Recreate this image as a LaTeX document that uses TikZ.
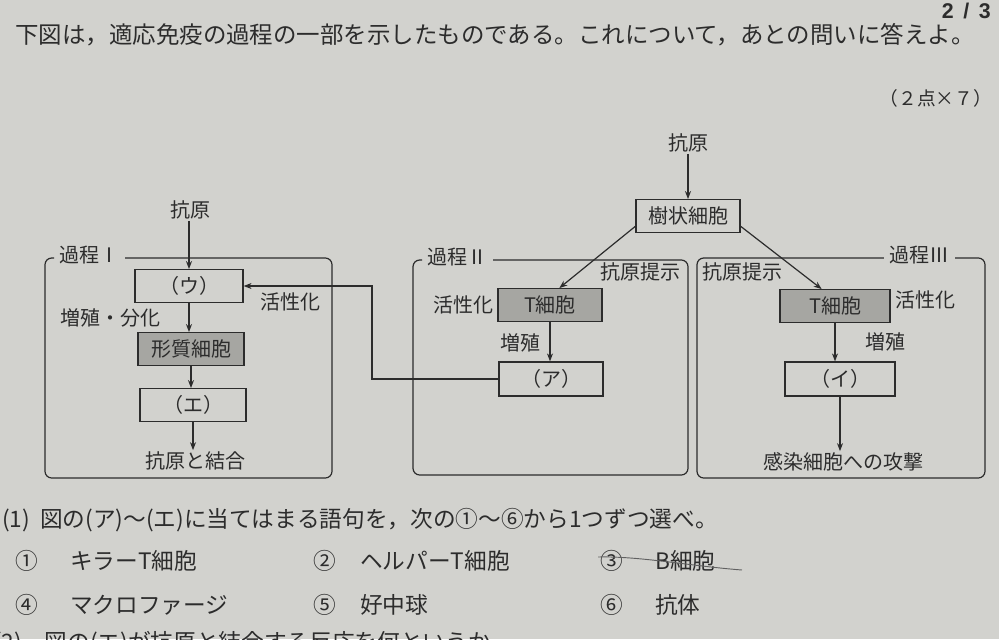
\documentclass[tikz,border=0pt]{standalone}
\usepackage{fontspec}
\setmainfont{Noto Sans CJK JP}
\newfontfamily\pagefont{Liberation Sans}
\usetikzlibrary{arrows.meta,calc}
\definecolor{paper}{HTML}{D2D2CE}
\definecolor{ink}{HTML}{2C2C2C}
\definecolor{cellfill}{HTML}{A6A6A2}
\begin{document}
\begin{tikzpicture}[x=0.75pt,y=-0.75pt,
  box/.style={draw=ink, line width=0.9pt, minimum width=79pt, minimum height=24.5pt, inner sep=0pt, text=ink, font=\fontsize{15}{18}\selectfont},
  gbox/.style={box, fill=cellfill},
  lbl/.style={font=\fontsize{15}{18}\selectfont, text=ink, inner sep=1pt},
  plbl/.style={font=\fontsize{15}{18}\selectfont, text=ink, inner xsep=4pt, inner ysep=1pt},
  txt/.style={font=\fontsize{17}{20}\selectfont, text=ink, inner sep=0pt},
  arr/.style={draw=ink, line width=0.9pt, -{Stealth[length=6pt,width=4.5pt]}},
  frame/.style={draw=ink, line width=0.9pt, rounded corners=5pt}]
\useasboundingbox (0,0) rectangle (999,639);
\clip (0,0) rectangle (999,639);
\fill[paper] (0,0) rectangle (999,639);

% header
\node[font=\pagefont\bfseries\fontsize{16}{18}\selectfont, text=ink, anchor=east, inner sep=0pt] (page) at (991,11) {2\hspace{0.45em}/\hspace{0.45em}3};
\node[font=\fontsize{17.6}{21}\selectfont, text=ink, anchor=west, inner sep=0pt] (head) at (15,35) {下図は，適応免疫の過程の一部を示したものである。これについて，あとの問いに答えよ。};
\node[font=\fontsize{14}{17}\selectfont, text=ink, anchor=east, inner sep=0pt] (pts) at (992,98) {（２点×７）};

% frame coordinates
\coordinate (f1tl) at (45,258);  \coordinate (f1br) at (332,478);
\coordinate (f2tl) at (413,260); \coordinate (f2br) at (688,475);
\coordinate (f3tl) at (697,258); \coordinate (f3br) at (985,478);

% process labels
\node[plbl, anchor=west] (p1) at (54,255) {過程Ⅰ};
\node[plbl, anchor=west] (p2) at (422,257) {過程Ⅱ};
\node[plbl, anchor=east] (p3) at (955,255) {過程Ⅲ};

% frames
\draw[frame] (p1.east |- f1tl) -- (f1br |- f1tl) -- (f1br) -- (f1tl |- f1br) -- (f1tl) -- (p1.west |- f1tl);
\draw[frame] (p2.east |- f2tl) -- (f2br |- f2tl) -- (f2br) -- (f2tl |- f2br) -- (f2tl) -- (p2.west |- f2tl);
\draw[frame] (p3.west |- f3tl) -- (f3tl) -- (f3tl |- f3br) -- (f3br) -- (f3br |- f3tl) -- (p3.east |- f3tl);

% process I
\node[lbl] (agL) at (190,210) {抗原};
\node[box, minimum width=81pt] (U) at (189,286) {（ウ）};
\node[gbox, minimum width=79.5pt] (PC) at (191,349) {形質細胞};
\node[box, minimum width=79.5pt] (E) at (193,405) {（エ）};
\node[lbl] (bind) at (195,461) {抗原と結合};
\node[lbl] (prolif1) at (110,318) {増殖・分化};
\node[lbl] (act1) at (290,302) {活性化};
\draw[arr] (U.north |- agL.south) -- (U.north);
\draw[arr] (U.south) -- (U.south |- PC.north);
\draw[arr] (PC.south) -- (PC.south |- E.north);
\draw[arr] (E.south) -- (E.south |- bind.north);

% dendritic cell
\node[lbl] (agR) at (688,143) {抗原};
\node[box, minimum width=78pt] (DC) at (688,216) {樹状細胞};
\draw[arr] (agR.south) -- (DC.north);

% process II
\node[gbox, minimum width=78pt] (TII) at (550,305) {T細胞};
\node[box, minimum width=78pt, minimum height=25.5pt] (A) at (551,379) {（ア）};
\node[lbl] (pres2) at (640,272) {抗原提示};
\node[lbl] (act2) at (463,305) {活性化};
\node[lbl] (prolif2) at (520,343) {増殖};
\draw[arr] ([yshift=5pt]DC.south west) -- ([xshift=7pt]TII.north);
\draw[arr] (TII.south) -- (TII.south |- A.north);

% process III
\node[gbox, minimum width=82.5pt] (TIII) at (835,306) {T細胞};
\node[box, minimum width=82.5pt, minimum height=25.5pt] (I) at (840,379) {（イ）};
\node[lbl] (pres3) at (742,272) {抗原提示};
\node[lbl] (act3) at (925,300) {活性化};
\node[lbl] (prolif3) at (885,342) {増殖};
\node[lbl] (attack) at (843,462) {感染細胞への攻撃};
\draw[arr] ([yshift=5pt]DC.south east) -- ([xshift=-10pt]TIII.north);
\draw[arr] (TIII.south) -- (TIII.south |- I.north);
\draw[arr] (I.south) -- (I.south |- attack.north);

% feedback connector (ア) -> (ウ)
\coordinate (cx) at (372,330);
\draw[arr] (A.west) -- (A.west -| cx) |- (U.east);

% questions
\node[txt, anchor=west] (q1n) at (2,520) {(1)};
\node[txt, anchor=west] (q1) at (40,520) {図の(ア)～(エ)に当てはまる語句を，次の①～⑥から1つずつ選べ。};
\node[txt] (o1) at (27,561) {①};
\node[txt, anchor=west] (o1t) at (70,561) {キラーT細胞};
\node[txt] (o2) at (325,561) {②};
\node[txt, anchor=west] (o2t) at (360,561) {ヘルパーT細胞};
\node[txt] (o3) at (612,561) {③};
\node[txt, anchor=west] (o3t) at (655,561) {B細胞};
\node[txt] (o4) at (27,605) {④};
\node[txt, anchor=west] (o4t) at (70,605) {マクロファージ};
\node[txt] (o5) at (325,605) {⑤};
\node[txt, anchor=west] (o5t) at (360,605) {好中球};
\node[txt] (o6) at (612,605) {⑥};
\node[txt, anchor=west] (o6t) at (655,605) {抗体};
\node[txt, anchor=west] (q2) at (-6,643) {(2)　図の(エ)が抗原と結合する反応を何というか。};
% pencil strike through option 3
\draw[ink!75, line width=0.7pt] (598,557) .. controls (640,556) and (690,566) .. (742,570);
\end{tikzpicture}
\end{document}
